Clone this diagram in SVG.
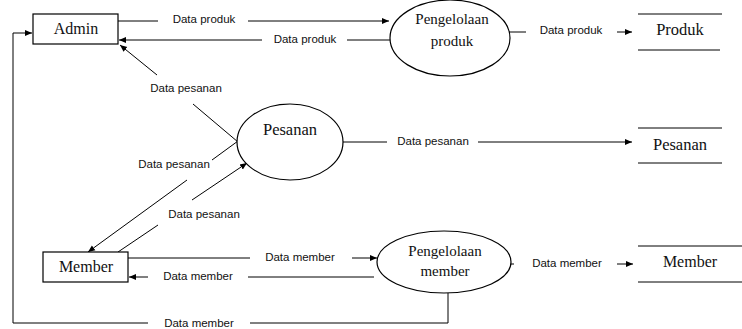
<svg xmlns="http://www.w3.org/2000/svg" width="742" height="329" viewBox="0 0 742 329">
<style>
.ln{stroke:#000;stroke-width:1;fill:none}
.box{stroke:#000;stroke-width:1.2;fill:#fff}
.nt{font-family:"Liberation Serif","Times New Roman",serif;font-size:16px;fill:#111;text-anchor:middle}
.lb{font-family:"Liberation Sans",Arial,sans-serif;font-size:11.5px;fill:#111;text-anchor:middle}
</style>
<defs>
<marker id="ah" markerWidth="8" markerHeight="8" refX="7" refY="4" orient="auto" markerUnits="userSpaceOnUse">
<path d="M0,1 L7,4 L0,7 Z" fill="#000"/>
</marker>
</defs>
<rect width="742" height="329" fill="#fff"/>
<g id="connectors">
<!-- Admin -> Pengelolaan produk -->
<line class="ln" x1="118" y1="21" x2="158" y2="21"/>
<line class="ln" x1="248" y1="21" x2="389" y2="21" marker-end="url(#ah)"/>
<text class="lb" x="204" y="23">Data produk</text>
<!-- Pengelolaan produk -> Admin -->
<line class="ln" x1="390" y1="40" x2="347" y2="40"/>
<line class="ln" x1="262" y1="40" x2="119" y2="40" marker-end="url(#ah)"/>
<text class="lb" x="305" y="43">Data produk</text>
<!-- Pengelolaan produk -> Produk -->
<line class="ln" x1="509" y1="32" x2="526" y2="32"/>
<text class="lb" x="571" y="34">Data produk</text>
<line class="ln" x1="617" y1="32" x2="632" y2="32" marker-end="url(#ah)"/>
<!-- Pesanan -> Admin -->
<line class="ln" x1="238" y1="142" x2="193" y2="104"/>
<line class="ln" x1="157" y1="75" x2="120" y2="45" marker-end="url(#ah)"/>
<text class="lb" x="186" y="92">Data pesanan</text>
<!-- Pesanan -> Pesanan store -->
<line class="ln" x1="343" y1="142" x2="387" y2="142"/>
<text class="lb" x="433" y="145">Data pesanan</text>
<line class="ln" x1="478" y1="142" x2="632" y2="142" marker-end="url(#ah)"/>
<!-- Pesanan -> Member -->
<line class="ln" x1="238" y1="141" x2="212" y2="160"/>
<line class="ln" x1="187" y1="180" x2="88" y2="252" marker-end="url(#ah)"/>
<text class="lb" x="174" y="168">Data pesanan</text>
<!-- Member -> Pesanan -->
<line class="ln" x1="118" y1="252" x2="158" y2="225"/>
<line class="ln" x1="192" y1="200" x2="247" y2="163" marker-end="url(#ah)"/>
<text class="lb" x="204" y="218">Data pesanan</text>
<!-- Member -> Pengelolaan member -->
<line class="ln" x1="128" y1="258" x2="250" y2="258"/>
<text class="lb" x="300" y="261">Data member</text>
<line class="ln" x1="352" y1="258" x2="377" y2="258" marker-end="url(#ah)"/>
<!-- Pengelolaan member -> Member -->
<line class="ln" x1="374" y1="277" x2="248" y2="277"/>
<line class="ln" x1="148" y1="277" x2="129" y2="277" marker-end="url(#ah)"/>
<text class="lb" x="198" y="280">Data member</text>
<!-- Pengelolaan member -> Member store -->
<line class="ln" x1="511" y1="264" x2="514" y2="264"/>
<text class="lb" x="567" y="267">Data member</text>
<line class="ln" x1="617" y1="264" x2="633" y2="264" marker-end="url(#ah)"/>
<!-- Pengelolaan member -> Admin loop -->
<polyline class="ln" points="448,293 448,323 250,323"/>
<polyline class="ln" points="148,323 13,323 13,33 32,33" marker-end="url(#ah)"/>
<text class="lb" x="199" y="327">Data member</text>
</g>
<g id="admin">
<rect class="box" x="33" y="14" width="85" height="30"/>
<text class="nt" x="76" y="34">Admin</text>
</g>
<g id="member">
<rect class="box" x="43" y="252" width="85" height="30"/>
<text class="nt" x="86" y="272">Member</text>
</g>
<g id="pengelolaan-produk">
<ellipse class="box" cx="450" cy="38" rx="60" ry="38"/>
<text class="nt" x="452" y="24" style="font-size:15px">Pengelolaan</text>
<text class="nt" x="452" y="46" style="font-size:15px">produk</text>
</g>
<g id="pesanan">
<ellipse class="box" cx="290" cy="142" rx="53" ry="38"/>
<text class="nt" x="290" y="135" style="font-size:16.5px">Pesanan</text>
</g>
<g id="pengelolaan-member">
<ellipse class="box" cx="444" cy="262" rx="67" ry="31"/>
<text class="nt" x="445" y="256" style="font-size:15px">Pengelolaan</text>
<text class="nt" x="445" y="276" style="font-size:15px">member</text>
</g>
<g id="store-produk">
<line class="ln" x1="638" y1="14" x2="722" y2="14"/>
<line class="ln" x1="638" y1="50" x2="720" y2="50"/>
<text class="nt" x="680" y="35" style="font-size:16.5px">Produk</text>
</g>
<g id="store-pesanan">
<line class="ln" x1="638" y1="128" x2="722" y2="128"/>
<line class="ln" x1="638" y1="163" x2="722" y2="163"/>
<text class="nt" x="680" y="150" style="font-size:16.5px">Pesanan</text>
</g>
<g id="store-member">
<line class="ln" x1="638" y1="246" x2="742" y2="246"/>
<line class="ln" x1="638" y1="282" x2="742" y2="282"/>
<text class="nt" x="690" y="267">Member</text>
</g>
</svg>
